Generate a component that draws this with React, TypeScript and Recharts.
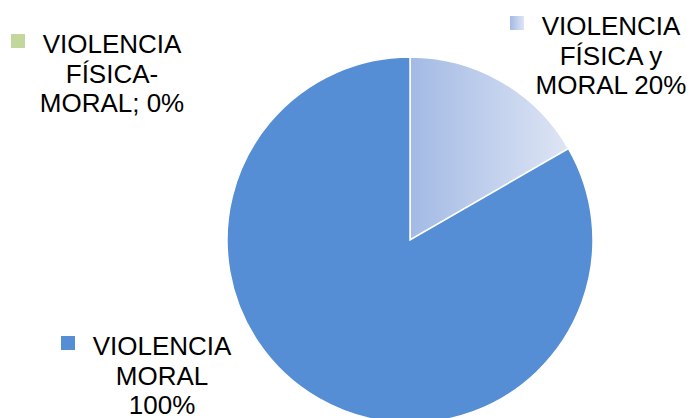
import { PieChart, Pie, Cell } from "recharts";

// categories in the order Excel draws them (clockwise from 12 o'clock)
const categories = ["VIOLENCIA FÍSICA y MORAL", "VIOLENCIA MORAL", "VIOLENCIA FÍSICA-MORAL"];
const values = [20, 100, 0];
const labelLines = [
  ["VIOLENCIA", "FÍSICA y", "MORAL 20%"],
  ["VIOLENCIA", "MORAL", "100%"],
  ["VIOLENCIA", "FÍSICA-", "MORAL; 0%"],
];

const fills = ["url(#softBlue)", "#558ed5", "#c3d69b"];
const swatchFills = ["url(#softBlueSwatch)", "#558ed5", "#c3d69b"];

// where each data label sits (text centre x, first baseline y)
const labelPos = [
  { x: 611, y: 35 },
  { x: 162, y: 355 },
  { x: 112, y: 53 },
];

const data = categories.map((name, i) => ({ name, value: values[i] }));

const FONT = "'Liberation Sans', Arial, sans-serif";
const LINE_H = 29.5;

function DataLabel(props: any) {
  const i = props.index;
  const pos = labelPos[i];
  const lines = labelLines[i];
  return (
    <g>
      <rect x={pos.x - 101} y={pos.y - 19} width={14} height={14} fill={swatchFills[i]} />
      <text
        x={pos.x}
        y={pos.y}
        textAnchor="middle"
        fontFamily={FONT}
        fontSize={26}
        fill="#000"
      >
        {lines.map((ln, k) => (
          <tspan key={k} x={pos.x} y={pos.y + k * LINE_H}>
            {ln}
          </tspan>
        ))}
      </text>
    </g>
  );
}

export default function App() {
  return (
    <div style={{ width: 692, height: 418, background: "#fff", overflow: "hidden" }}>
      <style>{"body{margin:0}"}</style>
      <PieChart width={692} height={418} margin={{ top: 0, right: 0, bottom: 0, left: 0 }}>
        <defs>
          <linearGradient id="softBlue" x1="0" y1="0" x2="1" y2="0">
            <stop offset="0%" stopColor="#a3bae5" />
            <stop offset="100%" stopColor="#dee5f4" />
          </linearGradient>
          <linearGradient id="softBlueSwatch" x1="0" y1="0" x2="1" y2="0">
            <stop offset="0%" stopColor="#a3bae5" />
            <stop offset="100%" stopColor="#dee5f4" />
          </linearGradient>
        </defs>
        <Pie
          data={data}
          dataKey="value"
          nameKey="name"
          cx={410}
          cy={240}
          outerRadius={183}
          startAngle={90}
          endAngle={-270}
          stroke="#fff"
          strokeWidth={1.5}
          labelLine={false}
          label={(p: any) => <DataLabel {...p} />}
          isAnimationActive={false}
        >
          {data.map((d, i) => (
            <Cell key={d.name} fill={fills[i]} />
          ))}
        </Pie>
      </PieChart>
    </div>
  );
}
